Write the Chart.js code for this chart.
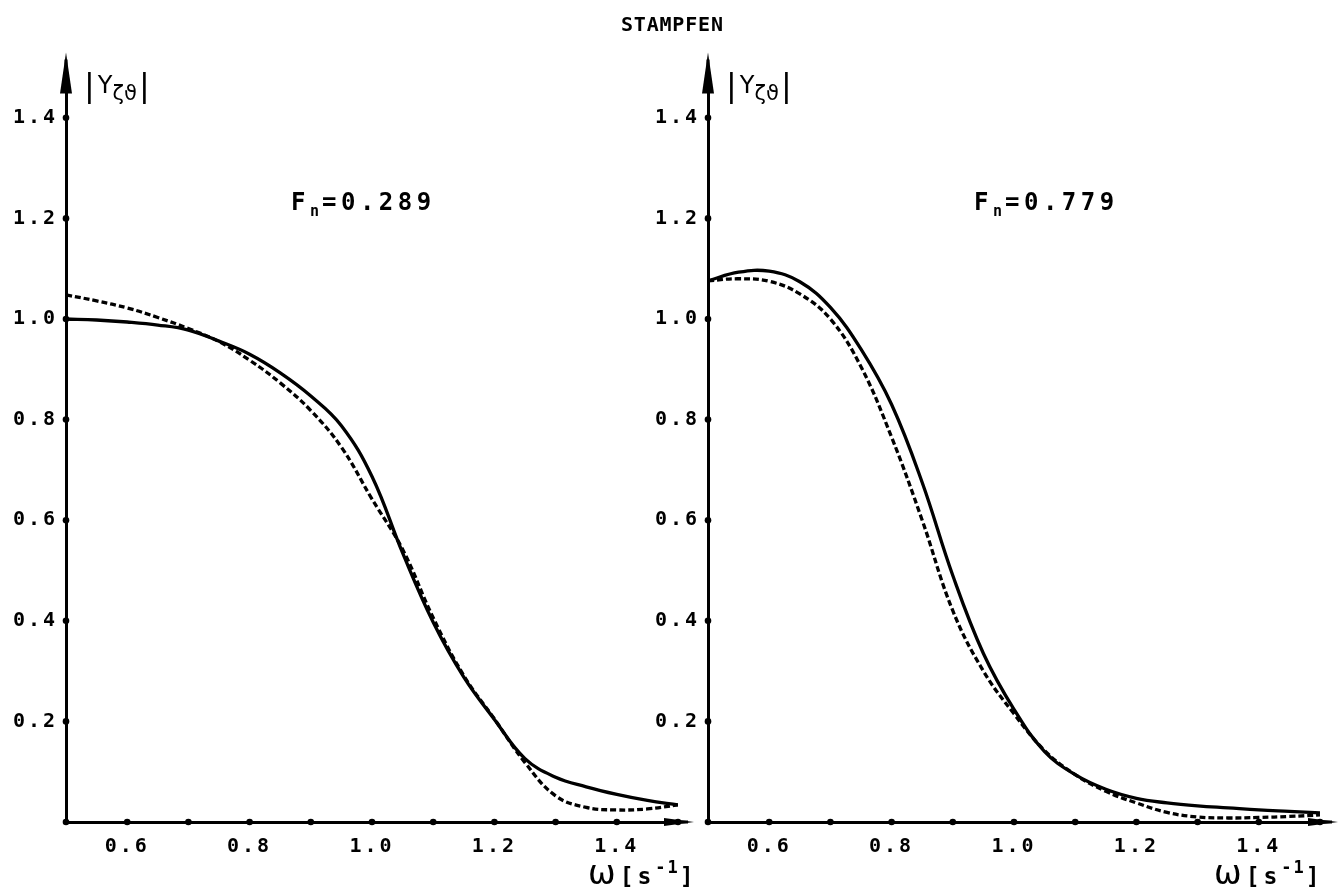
<!DOCTYPE html>
<html><head><meta charset="utf-8">
<script src="https://cdn.jsdelivr.net/npm/chart.js@4.4.1/dist/chart.umd.min.js"></script>
<style>
html,body{margin:0;padding:0;background:#fff;width:1343px;height:891px;overflow:hidden}
body{position:relative}
canvas{position:absolute;top:0}
#cL{left:0}
#cR{left:642px}
.pl{position:absolute;font-family:"DejaVu Sans Mono",monospace;font-weight:bold;color:#000;white-space:nowrap;line-height:1}
.pl sub{font-size:15px;vertical-align:-6px;letter-spacing:3px}
.yl{position:absolute;font-family:"DejaVu Sans",sans-serif;color:#000;white-space:nowrap;line-height:1}
.yl .bar{font-size:32px;vertical-align:middle}
.yl .Y{font-size:24px;vertical-align:middle;margin-left:3px}
.yl sub{font-size:21px;vertical-align:-10px;margin-right:2px}
.xl{position:absolute;color:#000;white-space:nowrap;line-height:1}
.xl .w{font-family:"DejaVu Sans",sans-serif;font-size:33px}
.xl .s{font-family:"DejaVu Sans Mono",monospace;font-weight:bold;font-size:23px;letter-spacing:4px}
.xl sup{font-family:"DejaVu Sans Mono",monospace;font-weight:bold;font-size:17px;vertical-align:11px;letter-spacing:2px}
</style></head><body>
<canvas id="cL" width="700" height="891"></canvas>
<canvas id="cR" width="701" height="891"></canvas>

<div class="pl" style="left:621px;top:14px;font-size:20px;letter-spacing:0.8px">STAMPFEN</div>
<div class="pl" style="left:291px;top:190px;font-size:24px;letter-spacing:4.5px">F<sub>n</sub>=0.289</div>
<div class="pl" style="left:974px;top:190px;font-size:24px;letter-spacing:4.5px">F<sub>n</sub>=0.779</div>

<div class="yl" style="left:84px;top:69px"><span class="bar">|</span><span class="Y">Y</span><sub>ζϑ</sub><span class="bar">|</span></div>
<div class="yl" style="left:726px;top:69px"><span class="bar">|</span><span class="Y">Y</span><sub>ζϑ</sub><span class="bar">|</span></div>

<div class="xl" style="left:588px;top:856px"><span class="w">ω</span> <span class="s">[s</span><sup>-1</sup><span class="s">]</span></div>
<div class="xl" style="left:1214px;top:856px"><span class="w">ω</span> <span class="s">[s</span><sup>-1</sup><span class="s">]</span></div>

<script>
// ---- data ----
const omega = [0.5,0.55,0.6,0.65,0.7,0.75,0.8,0.85,0.9,0.95,1.0,1.05,1.1,1.15,1.2,1.25,1.3,1.35,1.4,1.45,1.5];

// Fn = 0.289
const solidL  = [1.000,0.998,0.994,0.988,0.978,0.956,0.930,0.893,0.847,0.788,0.687,0.535,0.397,0.288,0.204,0.126,0.089,0.070,0.055,0.043,0.034];
const dashedL = [1.048,1.036,1.022,1.003,0.981,0.955,0.918,0.873,0.818,0.745,0.642,0.542,0.406,0.291,0.205,0.118,0.052,0.029,0.024,0.026,0.034];

// Fn = 0.779
const solidR  = [1.076,1.093,1.095,1.074,1.023,0.940,0.830,0.675,0.490,0.335,0.224,0.140,0.094,0.065,0.047,0.038,0.032,0.028,0.024,0.021,0.018];
const dashedR = [1.076,1.080,1.075,1.050,1.000,0.905,0.765,0.600,0.420,0.300,0.215,0.142,0.094,0.061,0.038,0.019,0.010,0.008,0.009,0.011,0.014];

const xTickValues = [0.5,0.6,0.7,0.8,0.9,1.0,1.1,1.2,1.3,1.4,1.5];
const xTickLabels = ['','0.6','','0.8','','1.0','','1.2','','1.4',''];
const yTickValues = [0.2,0.4,0.6,0.8,1.0,1.2,1.4];
const yTickLabels = ['0.2','0.4','0.6','0.8','1.0','1.2','1.4'];

// ---- plugins ----
const spacing = {
  id:'spacing',
  beforeUpdate(c){ c.ctx.letterSpacing = '3px'; },
  beforeDraw(c){ c.ctx.letterSpacing = '3px'; }
};

const axisDeco = {
  id:'axisDeco',
  afterDraw(chart, args, opts){
    const {ctx, chartArea:a, scales:{x, y}} = chart;
    ctx.save();
    ctx.letterSpacing = '0px';
    ctx.fillStyle = '#000';
    ctx.strokeStyle = '#000';
    ctx.lineWidth = 3;
    ctx.lineCap = 'butt';
    // y axis extension + arrow
    ctx.beginPath(); ctx.moveTo(a.left, a.top + 2); ctx.lineTo(a.left, a.top - 8); ctx.stroke();
    ctx.beginPath();
    ctx.moveTo(a.left, a.top - 15);
    ctx.lineTo(a.left - 6, a.top + 26);
    ctx.lineTo(a.left + 6, a.top + 26);
    ctx.closePath(); ctx.fill();
    // x axis extension + arrow
    const tip = a.right + opts.xTip;
    ctx.beginPath(); ctx.moveTo(a.right - 2, a.bottom); ctx.lineTo(tip - 6, a.bottom); ctx.stroke();
    ctx.beginPath();
    ctx.moveTo(tip, a.bottom);
    ctx.lineTo(tip - 30, a.bottom - 4);
    ctx.lineTo(tip - 30, a.bottom + 4);
    ctx.closePath(); ctx.fill();
    // tick dots
    x.ticks.forEach(t => {
      const px = x.getPixelForValue(t.value);
      ctx.beginPath(); ctx.arc(px, a.bottom, 3.3, 0, Math.PI*2); ctx.fill();
    });
    y.ticks.forEach(t => {
      const py = y.getPixelForValue(t.value);
      ctx.beginPath(); ctx.arc(a.left, py, 3.3, 0, Math.PI*2); ctx.fill();
    });
    ctx.restore();
  }
};

const tickFont = {family:'"DejaVu Sans Mono", monospace', weight:'bold', size:20};

function makeChart(id, solid, dashed, padRight, xTip){
  return new Chart(document.getElementById(id), {
    type:'line',
    data:{
      labels: omega,
      datasets:[
        {data: omega.map((w,i)=>({x:w, y:solid[i]})), borderColor:'#000', borderWidth:3.3, pointRadius:0, tension:0.4, fill:false},
        {data: omega.map((w,i)=>({x:w, y:dashed[i]})), borderColor:'#000', borderWidth:3.3, borderDash:[6,3], pointRadius:0, tension:0.4, fill:false}
      ]
    },
    options:{
      responsive:false,
      animation:false,
      events:[],
      layout:{padding:{left:0, right:padRight, top:67.5, bottom:0}},
      plugins:{legend:{display:false}, tooltip:{enabled:false}, title:{display:false}, axisDeco:{xTip}},
      scales:{
        x:{
          type:'linear', min:0.5, max:1.5,
          afterBuildTicks: s => { s.ticks = xTickValues.map(v => ({value:v})); },
          afterFit: s => { s.height = 69; },
          grid:{display:false, drawTicks:false},
          border:{display:true, color:'#000', width:3},
          ticks:{autoSkip:false, maxRotation:0, padding:13, color:'#000', font:tickFont,
                 callback:(v,i)=>xTickLabels[i]}
        },
        y:{
          type:'linear', min:0, max:1.5,
          afterBuildTicks: s => { s.ticks = yTickValues.map(v => ({value:v})); },
          afterFit: s => { s.width = 66; },
          grid:{display:false, drawTicks:false},
          border:{display:true, color:'#000', width:3},
          ticks:{autoSkip:false, padding:8, color:'#000', font:tickFont,
                 callback:(v,i)=>yTickLabels[i]}
        }
      }
    },
    plugins:[spacing, axisDeco]
  });
}

makeChart('cL', solidL, dashedL, 22, 16);
makeChart('cR', solidR, dashedR, 23, 18);
</script>
</body></html>
